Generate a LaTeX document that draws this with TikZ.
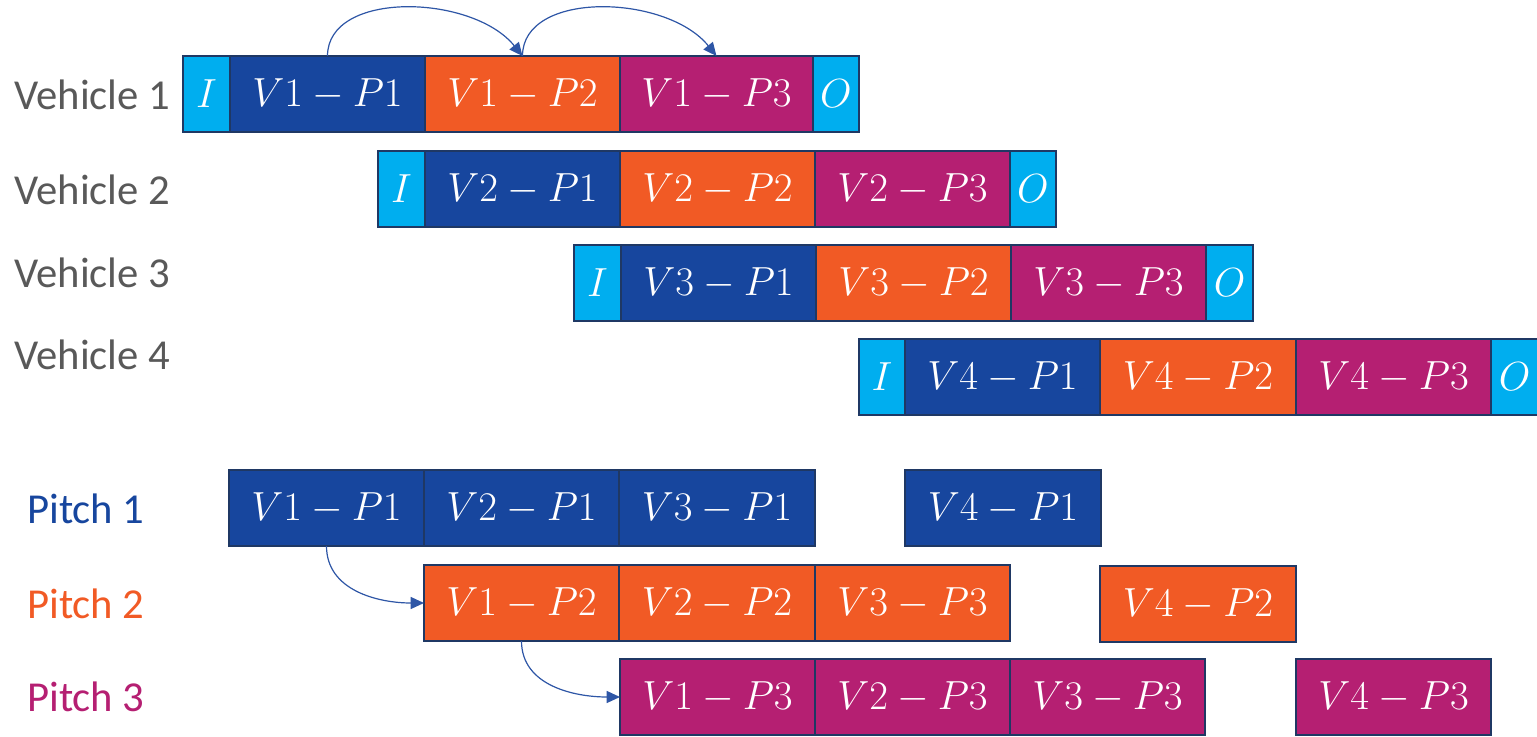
\RequirePackage{fix-cm}
\documentclass[tikz,border=0pt]{standalone}
\usepackage{fontspec}
\newfontfamily\labelfont{Carlito}
\usetikzlibrary{arrows.meta}
\definecolor{cyanI}{HTML}{00AEEF}
\definecolor{dblue}{HTML}{17469E}
\definecolor{orng}{HTML}{F15A25}
\definecolor{magn}{HTML}{B51F72}
\definecolor{bordr}{HTML}{1F3864}
\definecolor{arrw}{HTML}{2E56A6}
\definecolor{greytxt}{HTML}{595959}
\tikzset{
  cell/.style={draw=bordr, line width=1.6pt, inner sep=0pt, outer sep=0pt,
    minimum height=57pt, anchor=north west, text=white,
    font=\fontsize{30.5}{36}\selectfont},
  rowlabel/.style={anchor=west, inner sep=0pt, font=\labelfont\fontsize{32}{36}\selectfont},
  link/.style={draw=arrw, line width=0.9pt, -{Triangle[length=10pt,width=9pt]}}
}
\newcommand\cellbox[6]{\node[cell, fill=#2, minimum width=#3*0.75pt] (#1) at (#4,#5) {#6};}
\begin{document}
\begin{tikzpicture}[x=0.75pt,y=-0.75pt]
\useasboundingbox (0,0) rectangle (1537,737);
% vehicle labels
\node[rowlabel, text=greytxt] (lv1) at (14,95) {Vehicle 1};
\node[rowlabel, text=greytxt] (lv2) at (14,190) {Vehicle 2};
\node[rowlabel, text=greytxt] (lv3) at (14,273) {Vehicle 3};
\node[rowlabel, text=greytxt] (lv4) at (14,355) {Vehicle 4};
% pitch labels
\node[rowlabel, text=dblue] (lp1) at (27,509) {Pitch 1};
\node[rowlabel, text=orng] (lp2) at (27,604) {Pitch 2};
\node[rowlabel, text=magn] (lp3) at (27,697) {Pitch 3};
% Vehicle 1
\cellbox{i1}{cyanI}{47}{183}{56}{$I$}
\cellbox{v1p1}{dblue}{195}{230}{56}{$V1-P1$}
\cellbox{v1p2}{orng}{195}{425}{56}{$V1-P2$}
\cellbox{v1p3}{magn}{193}{620}{56}{$V1-P3$}
\cellbox{o1}{cyanI}{46}{813}{56}{$O$}
% Vehicle 2
\cellbox{i2}{cyanI}{47}{378}{151}{$I$}
\cellbox{v2p1}{dblue}{195}{425}{151}{$V2-P1$}
\cellbox{v2p2}{orng}{195}{620}{151}{$V2-P2$}
\cellbox{v2p3}{magn}{195}{815}{151}{$V2-P3$}
\cellbox{o2}{cyanI}{46}{1010}{151}{$O$}
% Vehicle 3
\cellbox{i3}{cyanI}{47}{574}{245}{$I$}
\cellbox{v3p1}{dblue}{195}{621}{245}{$V3-P1$}
\cellbox{v3p2}{orng}{195}{816}{245}{$V3-P2$}
\cellbox{v3p3}{magn}{195}{1011}{245}{$V3-P3$}
\cellbox{o3}{cyanI}{47}{1206}{245}{$O$}
% Vehicle 4
\cellbox{i4}{cyanI}{46}{859}{339}{$I$}
\cellbox{v4p1}{dblue}{195}{905}{339}{$V4-P1$}
\cellbox{v4p2}{orng}{196}{1100}{339}{$V4-P2$}
\cellbox{v4p3}{magn}{195}{1296}{339}{$V4-P3$}
\cellbox{o4}{cyanI}{47}{1491}{339}{$O$}
% Pitch 1
\cellbox{a1}{dblue}{195}{229}{470}{$V1-P1$}
\cellbox{a2}{dblue}{195}{424}{470}{$V2-P1$}
\cellbox{a3}{dblue}{196}{619}{470}{$V3-P1$}
\cellbox{a4}{dblue}{196}{905}{470}{$V4-P1$}
% Pitch 2
\cellbox{b1}{orng}{195}{424}{565}{$V1-P2$}
\cellbox{b2}{orng}{196}{619}{565}{$V2-P2$}
\cellbox{b3}{orng}{195}{815}{565}{$V3-P3$}
\cellbox{b4}{orng}{196}{1100}{566}{$V4-P2$}
% Pitch 3
\cellbox{c1}{magn}{195}{620}{659}{$V1-P3$}
\cellbox{c2}{magn}{195}{815}{659}{$V2-P3$}
\cellbox{c3}{magn}{195}{1010}{659}{$V3-P3$}
\cellbox{c4}{magn}{195}{1296}{659}{$V4-P3$}
% connectors
\draw[link] (v1p1.north) .. controls +(0,-66) and +(-50,-62) .. (v1p2.north);
\draw[link] (v1p2.north) .. controls +(0,-66) and +(-50,-62) .. (v1p3.north);
\draw[link] (a1.south) .. controls +(0,45) and +(-45,0) .. (b1.west);
\draw[link] (b1.south) .. controls +(0,45) and +(-45,0) .. (c1.west);
\end{tikzpicture}
\end{document}
